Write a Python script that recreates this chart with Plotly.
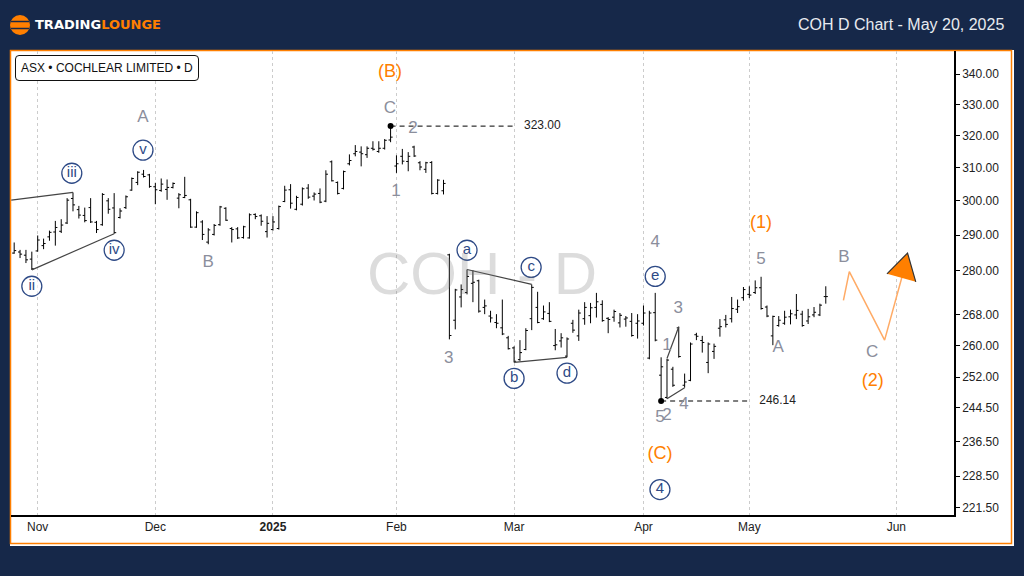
import numpy as np
import plotly.graph_objects as go

# --------------------------------------------------------
# 1. DATA (daily bars, one row = 10 sessions)
# --------------------------------------------------------
bars = list(range(-4, 135))

highs = [
    287.9, 285.8, 285.8, 285.3, 289.9, 289.0, 291.3, 294.1, 294.6, 300.8,
    302.5, 298.5, 298.0, 300.8, 294.1, 302.3, 300.8, 302.3, 297.8, 301.6,
    307.0, 308.9, 309.3, 308.1, 305.4, 306.7, 306.4, 305.5, 302.3, 307.2,
    300.6, 296.9, 294.3, 292.0, 293.2, 298.5, 298.1, 292.3, 292.3, 292.7,
    296.3, 296.3, 296.0, 295.5, 295.5, 298.6, 304.5, 305.0, 301.5, 304.0,
    305.0, 302.5, 303.7, 309.2, 312.2, 305.8, 309.1, 314.1, 317.0, 316.6,
    316.6, 318.2, 318.2, 318.9, 323.0, 313.8, 315.8, 314.8, 316.8, 312.0,
    311.8, 312.0, 306.5, 306.3, 284.7, 275.0, 276.2, 280.3, 280.1, 277.5,
    272.1, 269.1, 268.2, 272.1, 262.5, 259.8, 261.4, 264.5, 276.2, 274.2,
    270.5, 271.4, 264.3, 263.2, 262.1, 266.7, 269.4, 271.4, 271.2, 273.9,
    271.9, 267.4, 269.4, 268.5, 267.7, 268.5, 268.2, 270.5, 269.1, 273.9,
    257.0, 256.6, 254.6, 264.9, 252.9, 260.8, 263.3, 262.5, 260.8, 260.5,
    266.9, 268.0, 272.8, 272.1, 275.5, 275.7, 277.3, 278.3, 270.5, 267.8,
    267.7, 269.1, 269.4, 273.6, 269.1, 269.6, 270.1, 271.0, 275.7,
]
lows = [
    284.7, 283.5, 282.1, 280.2, 285.3, 286.0, 288.4, 287.0, 290.6, 293.2,
    296.9, 294.8, 293.7, 293.5, 290.6, 292.7, 296.2, 290.4, 294.8, 297.6,
    303.0, 304.7, 307.0, 303.9, 299.0, 302.7, 300.3, 303.7, 297.8, 300.8,
    292.1, 292.1, 288.6, 287.4, 289.9, 292.7, 294.1, 287.9, 288.9, 289.0,
    289.0, 294.6, 292.7, 289.3, 291.3, 291.6, 299.6, 297.7, 297.2, 298.6,
    300.6, 300.1, 299.3, 299.6, 305.8, 301.9, 303.4, 310.7, 313.5, 310.4,
    313.0, 315.3, 314.6, 315.6, 317.9, 308.4, 311.0, 308.9, 313.3, 309.2,
    308.4, 301.9, 301.9, 301.9, 261.6, 264.2, 270.0, 273.5, 271.4, 268.6,
    268.2, 266.0, 264.5, 262.7, 259.0, 255.7, 256.1, 258.8, 264.0, 265.8,
    266.7, 266.1, 258.8, 259.5, 257.0, 263.3, 261.2, 265.4, 265.8, 267.3,
    266.2, 263.2, 266.2, 264.7, 264.9, 262.3, 261.8, 265.2, 256.5, 261.1,
    246.14, 246.7, 249.6, 256.9, 249.4, 251.0, 261.4, 258.2, 253.0, 256.6,
    262.3, 264.7, 266.0, 268.5, 271.8, 272.5, 273.6, 269.4, 267.4, 260.1,
    264.9, 265.4, 265.5, 266.9, 264.9, 265.6, 267.4, 267.7, 271.0,
]
opens = [
    284.9, 285.2, 284.3, 283.2, 285.5, 287.0, 289.5, 290.9, 291.1, 293.5,
    300.7, 297.4, 295.7, 298.0, 293.7, 293.0, 300.0, 297.9, 295.1, 298.0,
    303.2, 305.5, 308.0, 307.8, 304.2, 303.1, 303.4, 304.0, 300.8, 301.0,
    300.3, 292.3, 293.8, 288.0, 290.2, 293.0, 297.8, 291.9, 291.8, 289.3,
    289.2, 296.0, 295.6, 291.0, 291.6, 291.9, 299.8, 303.3, 297.5, 299.0,
    303.8, 301.4, 302.2, 299.9, 311.8, 305.5, 303.7, 311.2, 314.3, 314.8,
    314.0, 316.0, 315.0, 316.0, 318.6, 310.5, 313.5, 311.9, 316.4, 311.5,
    309.5, 311.6, 302.2, 303.0, 284.4, 266.6, 272.8, 274.0, 276.5, 277.2,
    270.0, 267.7, 266.0, 264.6, 262.0, 259.4, 256.4, 259.0, 267.0, 270.0,
    267.0, 268.4, 260.0, 261.2, 257.3, 265.8, 262.5, 267.0, 267.8, 270.0,
    270.8, 267.1, 267.4, 265.9, 266.9, 266.3, 265.8, 265.8, 256.8, 268.6,
    252.5, 247.0, 254.0, 264.6, 250.0, 251.2, 262.8, 261.3, 255.7, 258.5,
    264.5, 266.7, 267.0, 269.5, 272.6, 273.5, 274.0, 275.3, 270.1, 262.5,
    265.2, 265.8, 267.5, 268.0, 268.2, 266.4, 268.0, 268.0, 272.9,
]
closes = [
    285.6, 284.6, 283.0, 280.5, 288.6, 287.6, 290.8, 292.2, 292.9, 300.2,
    298.8, 295.8, 294.2, 293.8, 291.6, 301.9, 297.5, 290.7, 297.0, 301.2,
    306.7, 308.6, 307.3, 304.3, 303.3, 305.0, 304.0, 305.2, 301.8, 301.6,
    292.3, 296.5, 290.2, 291.5, 292.8, 298.2, 294.3, 291.6, 289.2, 292.4,
    295.9, 295.4, 294.0, 293.4, 293.8, 298.3, 303.2, 299.3, 301.0, 303.6,
    301.1, 302.0, 299.6, 308.0, 306.0, 302.2, 308.8, 312.2, 315.0, 314.3,
    316.0, 315.7, 316.0, 318.5, 319.5, 311.2, 312.0, 313.5, 313.6, 310.2,
    311.5, 302.2, 306.2, 305.2, 262.6, 274.7, 274.8, 278.4, 276.8, 269.0,
    270.4, 267.2, 265.8, 263.0, 259.2, 256.0, 258.2, 263.9, 275.4, 266.0,
    268.8, 266.3, 260.2, 262.0, 261.7, 264.0, 268.5, 270.0, 269.9, 271.5,
    266.5, 266.8, 268.9, 267.9, 267.2, 262.6, 266.4, 268.5, 268.5, 261.4,
    254.6, 256.3, 250.0, 257.2, 250.8, 260.4, 262.4, 260.8, 260.4, 259.8,
    264.9, 265.5, 269.7, 270.2, 274.8, 273.3, 275.3, 269.7, 267.7, 267.6,
    266.6, 267.4, 268.3, 269.2, 265.2, 267.5, 268.7, 270.6, 272.9,
]

y_ticks = [340, 330, 320, 310, 300, 290, 280, 268, 260, 252, 244.5, 236.5, 228.5, 221.5]
x_ticks = [0, 20, 40, 61, 81, 103, 121, 146]
x_labels = ["Nov", "Dec", "<b>2025</b>", "Feb", "Mar", "Apr", "May", "Jun"]

# Wave counts: (text, bar, price)
grey_labels = [
    ("A", 17.9, 325.7), ("B", 29, 282.2), ("C", 59.9, 328.6), ("2", 63.8, 322.3),
    ("1", 60.9, 302.7), ("3", 69.9, 256.7), ("4", 105, 287.8), ("3", 108.9, 269.7),
    ("1", 107, 260.0), ("5", 105.8, 242.0), ("2", 107, 242.5), ("4", 109.9, 245.2),
    ("5", 123, 283.0), ("A", 125.9, 259.5), ("B", 137.1, 283.6), ("C", 141.9, 258.2),
]
orange_labels = [
    ("(B)", 59.9, 340.6), ("(1)", 123, 293.4), ("(2)", 142, 251.0), ("(C)", 105.8, 233.5),
]
circle_labels = [
    ("iii", 5.8, 308.3), ("v", 17.9, 315.4), ("ii", -1, 275.7), ("iv", 13, 285.7),
    ("a", 73, 285.7), ("c", 83.9, 280.9), ("b", 81, 251.7), ("d", 90, 253.0),
    ("e", 105, 278.4), ("4", 105.8, 225.5),
]

# Channel lines joining the pivots
channels = [
    ([-4.5, 6], [300.2, 302.5]),
    ([-1, 13], [280.2, 290.4]),
    ([73, 84], [280.3, 276.2]),
    ([81, 90], [255.7, 257.0]),
    ([107, 109], [256.7, 264.9]),
    ([107, 110], [246.7, 249.4]),
]

high_pivot = (60, 323.0)
low_pivot = (106, 246.14)

forecast_x = [137, 138, 144, 147]
forecast_y = [271.9, 279.7, 261.4, 278.5]
arrow_x = [144.4, 147.9, 149.3]
arrow_y = [279.1, 284.9, 276.9]

NAVY = "#162849"
ORANGE = "#ff7f00"
GREY = "#8b8e9c"
BLUE = "#2e4a86"
FONT = "Liberation Sans"

# --------------------------------------------------------
# 2. FIGURE
# --------------------------------------------------------
W, H = 1024, 576
LEFT, RIGHT, TOP, BOTTOM = 11, 954, 51, 515


def px(x):
    return (x - LEFT) / (RIGHT - LEFT)


def py(y):
    return (BOTTOM - y) / (BOTTOM - TOP)


def text_trace(labels, color, size):
    return go.Scatter(
        x=[l[1] for l in labels],
        y=[l[2] for l in labels],
        text=[l[0] for l in labels],
        mode="text",
        textposition="middle center",
        textfont=dict(family=FONT, size=size, color=color),
        hoverinfo="skip",
    )


fig = go.Figure()

fig.add_trace(go.Ohlc(
    x=bars, open=opens, high=highs, low=lows, close=closes,
    increasing_line=dict(color="#000000", width=1),
    decreasing_line=dict(color="#000000", width=1),
    tickwidth=0.35,
    hoverinfo="skip",
))

for xs, ys in channels:
    fig.add_trace(go.Scatter(x=xs, y=ys, mode="lines", line=dict(color="#444444", width=1.2), hoverinfo="skip"))

# Pivot levels
fig.add_trace(go.Scatter(
    x=[high_pivot[0], 81], y=[high_pivot[1]] * 2, mode="lines",
    line=dict(color="#000000", width=1, dash="5px,4px"), hoverinfo="skip",
))
fig.add_trace(go.Scatter(
    x=[low_pivot[0], 121], y=[low_pivot[1]] * 2, mode="lines",
    line=dict(color="#555555", width=1.4, dash="5px,4px"), hoverinfo="skip",
))
fig.add_trace(go.Scatter(
    x=[high_pivot[0], low_pivot[0]], y=[high_pivot[1], low_pivot[1]], mode="markers",
    marker=dict(color="#000000", size=6), hoverinfo="skip",
))
fig.add_trace(go.Scatter(
    x=[85.8, 125.8], y=[high_pivot[1], low_pivot[1]],
    text=[f"{high_pivot[1]:.2f}", f"{low_pivot[1]:.2f}"],
    mode="text", textfont=dict(family=FONT, size=12, color="#222222"), hoverinfo="skip",
))

# Forecast path and arrow head
fig.add_trace(go.Scatter(x=forecast_x, y=forecast_y, mode="lines", line=dict(color="#ffab66", width=1.5), hoverinfo="skip"))
fig.add_trace(go.Scatter(
    x=arrow_x, y=arrow_y, mode="lines", fill="toself", fillcolor=ORANGE,
    line=dict(color="#333333", width=1.2), hoverinfo="skip",
))

fig.add_trace(text_trace(grey_labels, GREY, 17))
fig.add_trace(text_trace(orange_labels, ORANGE, 18))
fig.add_trace(go.Scatter(
    x=[l[1] for l in circle_labels],
    y=[l[2] for l in circle_labels],
    text=[l[0] for l in circle_labels],
    mode="markers+text",
    textposition="middle center",
    textfont=dict(family=FONT, size=15, color=BLUE),
    marker=dict(size=20, color="rgba(255,255,255,0.6)", line=dict(color=BLUE, width=1.3)),
    hoverinfo="skip",
))

# Panel, frame, symbol box and logo
shapes = [
    dict(type="rect", xref="paper", yref="paper", layer="below",
         x0=px(10), x1=px(1014), y0=py(546), y1=py(50),
         fillcolor="#ffffff", line=dict(width=0)),
    dict(type="rect", xref="paper", yref="paper", layer="below",
         x0=px(10.5), x1=px(1011.5), y0=py(543.5), y1=py(50.5),
         fillcolor="#ffffff", line=dict(color=ORANGE, width=1.5)),
    dict(type="path", xref="paper", yref="paper", fillcolor="#ffffff",
         line=dict(color="#111111", width=1),
         path=(f"M {px(19)} {py(55.5)} L {px(195)} {py(55.5)} Q {px(198.5)} {py(55.5)} {px(198.5)} {py(59)} "
               f"L {px(198.5)} {py(77)} Q {px(198.5)} {py(80.5)} {px(195)} {py(80.5)} "
               f"L {px(19)} {py(80.5)} Q {px(15.5)} {py(80.5)} {px(15.5)} {py(77)} "
               f"L {px(15.5)} {py(59)} Q {px(15.5)} {py(55.5)} {px(19)} {py(55.5)} Z")),
    dict(type="circle", xref="paper", yref="paper",
         x0=px(10), x1=px(30), y0=py(35), y1=py(15), fillcolor=ORANGE, line=dict(width=0)),
]
for y in (21.5, 28.5):
    shapes.append(dict(type="line", xref="paper", yref="paper",
                       x0=px(11), x1=px(29), y0=py(y), y1=py(y), line=dict(color=NAVY, width=1.5)))

annotations = [
    dict(text="COH - D", x=px(482), y=py(273), font=dict(family=FONT, size=60, color="rgba(120,120,120,0.26)")),
    dict(text="ASX • COCHLEAR LIMITED • D", x=px(107), y=py(68), font=dict(family=FONT, size=12, color="#111111")),
    dict(text="COH D Chart - May 20, 2025", x=px(901), y=py(24), font=dict(family=FONT, size=16, color="#e8ebf0")),
    dict(text=f'<b>TRADING<span style="color:{ORANGE}">LOUNGE</span></b>', x=px(33), y=py(25), xanchor="left",
         font=dict(family="DejaVu Sans", size=13, color="#ffffff")),
]
for a in annotations:
    a.setdefault("xanchor", "center")
    a.update(xref="paper", yref="paper", yanchor="middle", showarrow=False)

fig.update_layout(
    width=W, height=H, autosize=False,
    margin=dict(l=LEFT, r=W - RIGHT, t=TOP, b=H - BOTTOM, pad=0),
    paper_bgcolor=NAVY, plot_bgcolor="#ffffff",
    showlegend=False,
    shapes=shapes, annotations=annotations,
    font=dict(family=FONT, size=12, color="#222222"),
    xaxis=dict(
        range=[-4.54, 155.8], rangeslider=dict(visible=False),
        tickmode="array", tickvals=x_ticks, ticktext=x_labels, ticks="",
        showgrid=True, gridcolor="#cccccc", griddash="dot", gridwidth=1,
        showline=True, linecolor="#000000", linewidth=1.5, zeroline=False,
    ),
    yaxis=dict(
        type="log", side="right", range=[float(np.log10(219.9)), float(np.log10(347.9))],
        tickmode="array", tickvals=y_ticks, ticktext=[f"{v:.2f}" for v in y_ticks],
        ticks="outside", ticklen=4, tickcolor="#000000",
        showgrid=False, showline=True, linecolor="#000000", linewidth=1.5, zeroline=False,
    ),
)

fig.write_html(
    "out.html",
    config=dict(displayModeBar=False),
    post_script="document.body.style.margin='0';document.body.style.overflow='hidden';",
)
